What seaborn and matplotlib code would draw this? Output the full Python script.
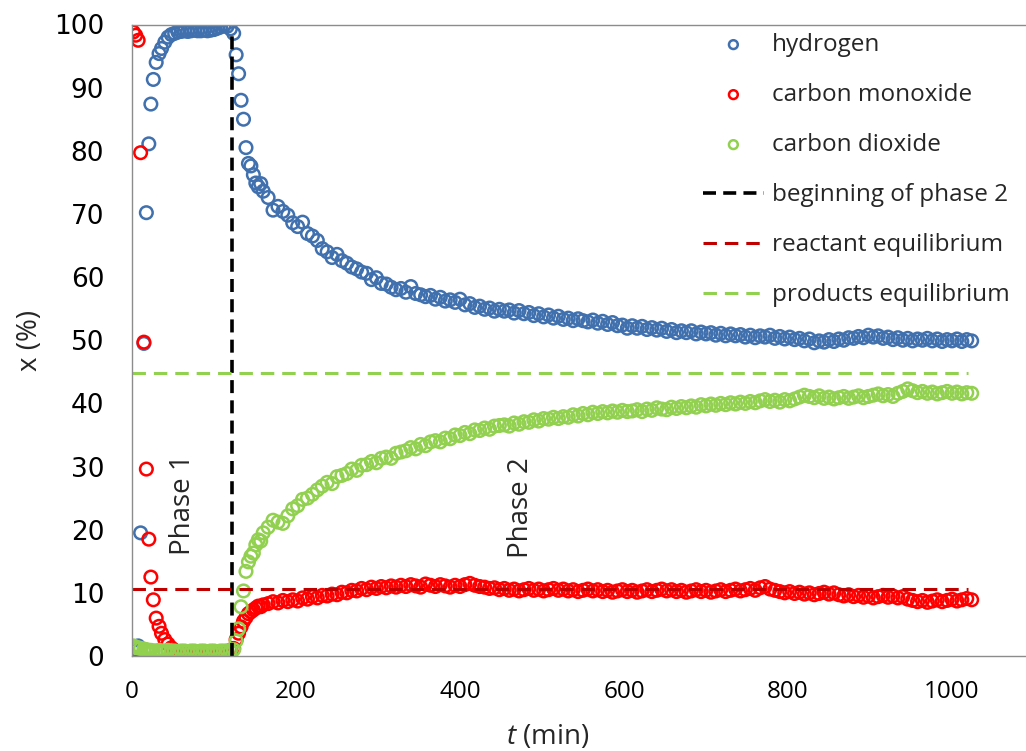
import matplotlib
matplotlib.use('Agg')
import matplotlib.pyplot as plt
import seaborn as sns
import pandas as pd

# ---- data ----
# phase 1: hydrogen / carbon monoxide feed (t in min, x in %)
t_phase1 = [1.5, 4.5, 7.5, 10.5, 14.5, 17.5, 20.5, 23, 26, 29.5, 33, 36, 40, 44, 48, 52, 56,
            60, 64, 68, 72, 76, 80, 84, 88, 92, 96, 100, 104, 108, 112, 116, 120]
h2_phase1 = [0.8, 1.0, 1.6, 19.5, 49.5, 70.2, 81.1, 87.4, 91.3, 94.0, 95.4, 96.2, 97.2, 98.0, 98.4, 98.6, 98.8,
             98.9, 99.0, 98.9, 99.0, 99.1, 99.0, 99.0, 99.1, 99.0, 99.1, 99.2, 99.4, 99.6, 99.8, 99.7, 99.3]
co_phase1 = [98.8, 98.3, 97.5, 79.7, 49.7, 29.6, 18.5, 12.5, 8.9, 6.0, 4.7, 3.6, 2.6, 1.9, 1.3, 0.9, 0.6,
             0.4, 0.3, 0.2, 0.2, 0.1, 0.1, 0.1, 0.0, 0.1, 0.1, 0.1, 0.2, 0.2, 0.3, 0.5, 0.9]
co2_phase1 = [1.6, 1.4, 1.3, 1.2, 1.1, 1.0, 0.9, 0.9, 0.8, 0.8, 0.9, 0.8, 0.8, 0.9, 0.8, 0.8, 0.7,
              0.8, 0.8, 0.7, 0.8, 0.8, 0.7, 0.8, 0.8, 0.7, 0.8, 0.8, 0.7, 0.8, 0.8, 0.8, 0.9]

# phase 2: carbon dioxide / hydrogen feed
t_phase2 = [124, 127, 130, 133, 136, 139, 142, 145, 148, 151, 154, 157, 160,
            166, 172, 178, 184, 190, 196, 202, 208, 214, 220, 226, 232,
            238, 244, 250, 256, 262, 268, 274, 280, 286, 292, 298, 304,
            310, 316, 322, 328, 334, 340, 346, 352, 358, 364, 370, 376,
            382, 388, 394, 400, 406, 412, 418, 424, 430, 436, 442, 448,
            454, 460, 466, 472, 478, 484, 490, 496, 502, 508, 514, 520,
            526, 532, 538, 544, 550, 556, 562, 568, 574, 580, 586, 592,
            598, 604, 610, 616, 622, 628, 634, 640, 646, 652, 658, 664,
            670, 676, 682, 688, 694, 700, 706, 712, 718, 724, 730, 736,
            742, 748, 754, 760, 766, 772, 778, 784, 790, 796, 802, 808,
            814, 820, 826, 832, 838, 844, 850, 856, 862, 868, 874, 880,
            886, 892, 898, 904, 910, 916, 922, 928, 934, 940, 946, 952,
            958, 964, 970, 976, 982, 988, 994, 1000, 1006, 1012, 1018, 1024]
h2_phase2 = [98.6, 95.2, 92.2, 88.0, 85.0, 80.5, 78.0, 77.6, 76.2, 74.9, 74.3, 74.8, 73.6,
             72.6, 70.6, 71.2, 70.4, 69.8, 68.6, 68.0, 68.7, 66.9, 66.5, 65.8, 64.5,
             64.0, 63.1, 63.6, 62.6, 62.2, 61.6, 61.3, 60.8, 60.6, 59.6, 59.9, 59.0,
             58.9, 58.4, 58.0, 58.2, 57.6, 58.5, 57.4, 57.2, 56.9, 57.1, 56.5, 56.8,
             56.2, 56.4, 56.0, 56.5, 55.6, 55.8, 55.2, 55.4, 54.9, 55.1, 54.6, 54.9,
             54.6, 54.8, 54.3, 54.7, 54.2, 54.4, 53.9, 54.2, 53.7, 54.0, 53.5, 53.8,
             53.3, 53.5, 53.1, 53.4, 53.1, 52.9, 53.2, 52.7, 53.0, 52.5, 52.8, 52.3,
             52.4, 51.9, 52.3, 51.9, 52.2, 51.7, 52.0, 51.6, 51.9, 51.4, 51.7, 51.2,
             51.5, 51.2, 51.5, 51.0, 51.3, 51.0, 51.2, 50.8, 51.1, 50.7, 51.0, 50.7,
             50.9, 50.5, 50.8, 50.4, 50.7, 50.5, 50.8, 50.3, 50.6, 50.2, 50.5, 50.1,
             50.3, 49.9, 50.2, 49.6, 49.9, 49.7, 50.1, 49.8, 50.2, 50.0, 50.4, 50.3,
             50.6, 50.4, 50.8, 50.5, 50.7, 50.3, 50.5, 50.1, 50.4, 50.0, 50.3, 49.9,
             50.2, 50.0, 50.3, 49.9, 50.2, 49.8, 50.1, 49.9, 50.2, 49.8, 50.1, 49.9]
co_phase2 = [1.2, 2.6, 3.6, 4.6, 5.5, 6.1, 6.7, 7.0, 7.3, 7.6, 7.9, 7.8, 8.1,
             8.3, 8.6, 8.4, 8.8, 8.6, 8.9, 8.7, 9.2, 9.0, 9.4, 9.2, 9.6,
             9.5, 9.8, 9.7, 10.1, 10.0, 10.4, 10.3, 10.7, 10.5, 10.9, 10.7, 11.0,
             10.8, 11.1, 10.9, 11.2, 11.0, 11.3, 11.1, 10.9, 11.4, 11.2, 11.0, 11.3,
             11.1, 10.9, 11.2, 11.0, 11.3, 11.5, 11.2, 11.0, 10.9, 10.7, 10.8, 10.5,
             10.7, 10.4, 10.6, 10.3, 10.5, 10.7, 10.4, 10.6, 10.3, 10.5, 10.7, 10.4,
             10.6, 10.3, 10.5, 10.2, 10.4, 10.6, 10.3, 10.5, 10.2, 10.4, 10.1, 10.3,
             10.5, 10.2, 10.4, 10.1, 10.3, 10.5, 10.2, 10.4, 10.6, 10.3, 10.5, 10.2,
             10.4, 10.1, 10.3, 10.5, 10.2, 10.4, 10.1, 10.3, 10.5, 10.2, 10.4, 10.6,
             10.3, 10.5, 10.7, 10.4, 10.8, 11.0, 10.6, 10.4, 10.2, 10.0, 10.2, 9.9,
             10.1, 9.8, 10.0, 9.7, 9.9, 10.1, 9.8, 10.0, 9.7, 9.5, 9.7, 9.4,
             9.6, 9.3, 9.5, 9.2, 9.4, 9.6, 9.3, 9.5, 9.2, 9.4, 9.0, 8.8,
             8.6, 8.8, 8.5, 8.7, 8.9, 8.6, 8.8, 9.0, 8.7, 8.9, 9.1, 8.9]
co2_phase2 = [1.0, 2.4, 4.3, 7.8, 10.3, 13.4, 14.9, 15.8, 16.3, 17.6, 18.4, 18.2, 19.5,
              20.4, 21.5, 21.2, 21.0, 22.2, 23.3, 23.8, 24.8, 25.0, 25.6, 26.3, 26.9,
              27.5, 27.3, 28.4, 28.6, 28.9, 29.6, 29.4, 30.2, 30.3, 30.8, 30.6, 31.3,
              31.5, 31.3, 32.1, 32.3, 32.5, 33.0, 32.8, 33.5, 33.3, 33.9, 34.1, 33.9,
              34.5, 34.4, 35.0, 34.9, 35.4, 35.2, 35.8, 35.7, 36.1, 35.9, 36.4, 36.5,
              36.6, 36.4, 36.9, 36.7, 37.1, 37.0, 37.4, 37.2, 37.6, 37.5, 37.8, 37.6,
              37.9, 37.8, 38.2, 38.0, 38.4, 38.2, 38.6, 38.4, 38.7, 38.5, 38.8, 38.6,
              38.9, 38.7, 38.8, 39.0, 38.7, 39.1, 38.9, 39.3, 39.1, 39.0, 39.4, 39.2,
              39.5, 39.3, 39.6, 39.4, 39.8, 39.6, 39.9, 39.7, 40.0, 39.8, 40.1, 39.9,
              40.2, 40.0, 40.3, 40.1, 40.4, 40.6, 40.3, 40.5, 40.2, 40.6, 40.4, 40.7,
              41.0, 41.3, 41.1, 40.9, 41.2, 40.8, 41.0, 40.7, 40.9, 41.1, 40.8, 41.0,
              41.2, 40.9, 41.1, 41.3, 41.5, 41.2, 41.4, 41.1, 41.6, 41.9, 42.3, 42.0,
              41.7, 41.9, 41.6, 41.8, 41.5, 41.7, 41.9, 41.6, 41.8, 41.5, 41.7, 41.6]

t_switch = 122          # beginning of phase 2
x_co_eq = 10.6          # reactant equilibrium
x_co2_eq = 44.8         # products equilibrium
t_eq = [0, 1020]

# ---- style ----
sns.set_style('white')
plt.rcParams['font.family'] = ['Open Sans', 'DejaVu Sans']
plt.rcParams['mathtext.fontset'] = 'custom'
plt.rcParams['mathtext.it'] = 'Open Sans:italic'
plt.rcParams['mathtext.rm'] = 'Open Sans'

c_h2 = '#4070AD'
c_co = '#FF0000'
c_co2 = '#92D050'
c_coeq = '#C00000'
grey = '#8C8C8C'

fig = plt.figure(figsize=(10.26, 7.51), dpi=100)
# axis box runs past the right edge of the picture, as in the original crop
ax = fig.add_axes([132 / 1026, 95 / 751, 984 / 1026, 631.5 / 751])

df_h2 = pd.DataFrame({'t': t_phase1 + t_phase2, 'x': h2_phase1 + h2_phase2})
df_co = pd.DataFrame({'t': t_phase1 + t_phase2, 'x': co_phase1 + co_phase2})
df_co2 = pd.DataFrame({'t': t_phase1 + t_phase2, 'x': co2_phase1 + co2_phase2})

mk = dict(s=82, linewidth=1.8, facecolor='none', marker='o')
sns.scatterplot(data=df_h2, x='t', y='x', color=c_h2, edgecolor=c_h2, label='hydrogen', ax=ax, **mk)
sns.scatterplot(data=df_co, x='t', y='x', color=c_co, edgecolor=c_co, label='carbon monoxide', ax=ax, **mk)
sns.scatterplot(data=df_co2, x='t', y='x', color=c_co2, edgecolor=c_co2, label='carbon dioxide', ax=ax, **mk)

sns.lineplot(x=[t_switch, t_switch], y=[0, 99], estimator=None, sort=False, color='black',
             linewidth=2.6, linestyle=(0, (3.6, 2.0)), label='beginning of phase 2', ax=ax)
sns.lineplot(x=t_eq, y=[x_co_eq, x_co_eq], estimator=None, sort=False, color=c_coeq,
             linewidth=2.2, linestyle=(0, (4.4, 2.6)), label='reactant equilibrium', ax=ax)
sns.lineplot(x=t_eq, y=[x_co2_eq, x_co2_eq], estimator=None, sort=False, color=c_co2,
             linewidth=2.2, linestyle=(0, (4.4, 2.6)), label='products equilibrium', ax=ax)

ax.text(62, 24, 'Phase 1', rotation=90, ha='center', va='center', fontsize=20)
ax.text(475, 23.5, 'Phase 2', rotation=90, ha='center', va='center', fontsize=20)

ax.set_xlim(0, 1200)
ax.set_ylim(0, 100)
ax.set_xticks([0, 200, 400, 600, 800, 1000])
ax.set_yticks(range(0, 101, 10))
ax.set_xlabel('')
ax.set_ylabel('')
for sp in ['left', 'bottom', 'top']:
    ax.spines[sp].set_color(grey)
    ax.spines[sp].set_linewidth(1.0)
ax.spines['right'].set_visible(False)
ax.tick_params(axis='both', direction='out', length=7, width=1, color=grey, labelcolor='black')
ax.tick_params(axis='x', pad=10, labelsize=17.5)
ax.tick_params(axis='y', pad=13)
for lab in ax.get_yticklabels():
    lab.set_family('DejaVu Sans')
    lab.set_fontsize(19)

fig.text(30 / 1026, 1 - 340 / 751, 'x (%)', rotation=90, ha='center', va='center', fontsize=20)
fig.text(548 / 1026, 1 - 737 / 751, '$t$ (min)', ha='center', va='center', fontsize=20)

handles, labels = ax.get_legend_handles_labels()
ax.legend(handles, labels, loc='upper left', bbox_to_anchor=(703 / 1026, 1 - 33 / 751),
          bbox_transform=fig.transFigure, frameon=False, fontsize=17.5, borderpad=0,
          borderaxespad=0, handlelength=2.5, handletextpad=0.35, labelspacing=1.07,
          markerscale=0.7)

fig.savefig('out.png', dpi=100)
